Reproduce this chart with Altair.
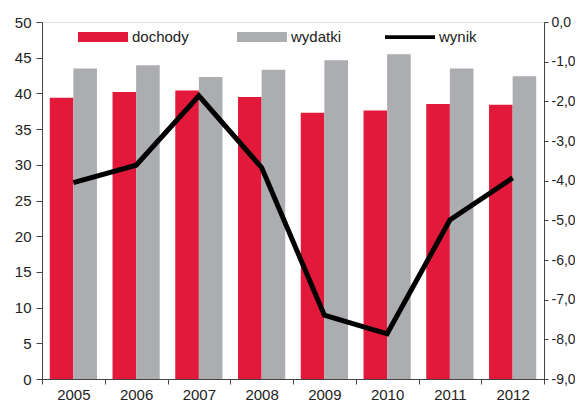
import altair as alt
import pandas as pd

years = ["2005", "2006", "2007", "2008", "2009", "2010", "2011", "2012"]
dochody = [39.4, 40.2, 40.4, 39.5, 37.3, 37.6, 38.5, 38.4]
wydatki = [43.5, 43.95, 42.3, 43.3, 44.65, 45.5, 43.5, 42.4]
wynik = [-4.05, -3.61, -1.86, -3.67, -7.39, -7.86, -4.99, -3.93]

bar_series = ["dochody", "wydatki"]
bar_colors = ["#E2193A", "#ACADB1"]
line_series = ["wynik"]
line_colors = ["#000000"]

bars_df = pd.DataFrame(
    [{"rok": y, "seria": "dochody", "v": d} for y, d in zip(years, dochody)]
    + [{"rok": y, "seria": "wydatki", "v": w} for y, w in zip(years, wydatki)]
)
line_df = pd.DataFrame({"rok": years, "wynik": wynik, "seria": ["wynik"] * len(years)})

FONT = "Liberation Sans, Arial"
FS = 15

xscale = alt.Scale(paddingInner=0, paddingOuter=0)
xaxis = alt.Axis(
    title=None, tickBand="extent", labelAngle=0, labelFontSize=FS,
    labelFont=FONT, labelColor="#222", tickSize=5, tickColor="#444",
    domainColor="#444", labelPadding=3,
)

bar_legend = alt.Legend(
    title=None, orient="none", legendX=36, legendY=-10, direction="horizontal",
    columns=2, gridAlign="all", columnPadding=48, labelFont=FONT,
    labelFontSize=15, labelColor="#222", labelOffset=4,
    symbolSize=2500, symbolType="M-1,-0.2H1V0.2H-1Z", symbolStrokeWidth=0,
    symbolOpacity=1,
)
line_legend = alt.Legend(
    title=None, orient="none", legendX=343, legendY=-10, direction="horizontal",
    labelFont=FONT, labelFontSize=15, labelColor="#222", labelOffset=4,
    symbolSize=2500, symbolType="M-1,-0.075H1V0.075H-1Z", symbolStrokeWidth=0,
    symbolFillColor="#000000", symbolOpacity=1,
)

bars = alt.Chart(bars_df).mark_bar().encode(
    x=alt.X("rok:N", scale=xscale, axis=xaxis, sort=years),
    xOffset=alt.XOffset("seria:N", scale=alt.Scale(paddingInner=0, paddingOuter=0.33), sort=bar_series),
    y=alt.Y(
        "v:Q",
        scale=alt.Scale(domain=[0, 50], nice=False),
        axis=alt.Axis(
            title=None, values=list(range(0, 55, 5)), orient="left", grid=False,
            labelFontSize=FS, labelFont=FONT, labelColor="#222", tickSize=6,
            tickColor="#444", domainColor="#444", labelPadding=5,
        ),
    ),
    color=alt.Color(
        "seria:N",
        scale=alt.Scale(domain=bar_series, range=bar_colors),
        legend=bar_legend,
    ),
)

line = alt.Chart(line_df).mark_line(strokeWidth=5, strokeJoin="miter").encode(
    x=alt.X("rok:N", scale=xscale, axis=xaxis, sort=years),
    y=alt.Y(
        "wynik:Q",
        scale=alt.Scale(domain=[-9, 0], nice=False),
        axis=alt.Axis(
            title=None, values=list(range(-9, 1)), orient="right", grid=False,
            labelFontSize=14, labelFont=FONT, labelColor="#222", tickSize=4,
            tickColor="#444", domainColor="#444", labelPadding=3,
            labelExpr="(datum.value < 0 ? '-' : '') + replace(format(abs(datum.value), '.1f'), '.', ',')",
        ),
    ),
    stroke=alt.Stroke(
        "seria:N",
        scale=alt.Scale(domain=line_series, range=line_colors),
        legend=line_legend,
    ),
)

chart = (
    alt.layer(bars, line)
    .resolve_scale(y="independent")
    .properties(
        width=502, height=357,
        autosize=alt.AutoSizeParams(type="none"),
        padding={"left": 34, "top": 14, "right": 31, "bottom": 27},
    )
    .configure_view(stroke=None)
    .configure(background="white")
)

chart.save("out.html", embed_options={"renderer": "svg", "actions": False})
